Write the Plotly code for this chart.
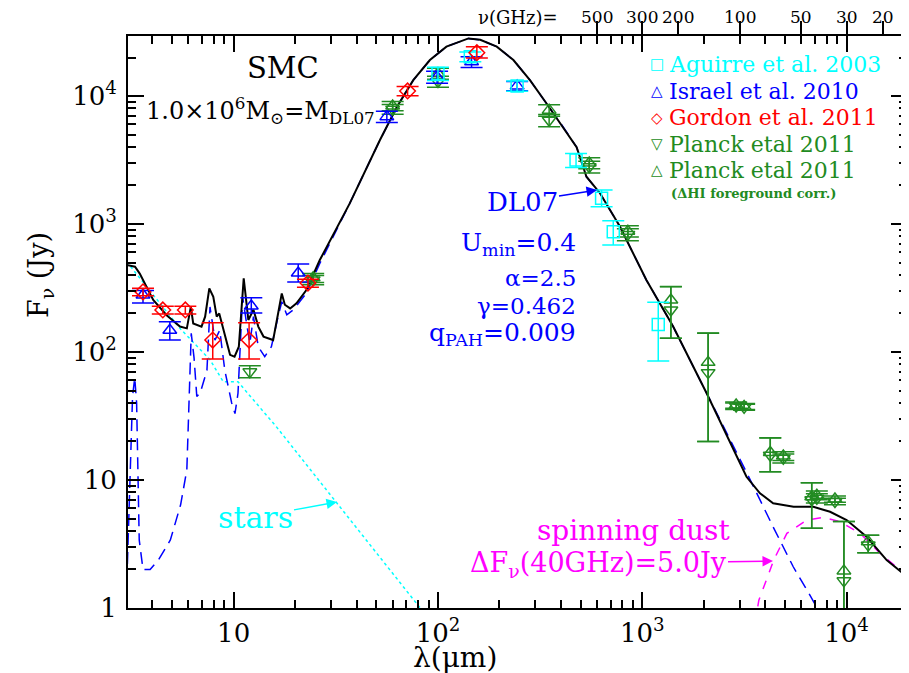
import plotly.graph_objects as go
import numpy as np

# ---------------- data ----------------
total_wl = [3.0, 3.29, 3.47, 4.04, 4.7, 5.46, 5.9, 6.17, 6.34, 6.96, 7.25, 7.6, 7.95, 8.26, 8.5, 8.9, 9.6, 10.1, 10.6,
            11.2, 11.5, 11.8, 12.5, 13.2, 14.0, 15.6, 16.5, 17.2, 17.8, 18.9, 20.3, 22.7, 26.4, 37, 52, 63, 75.7,
            91.3, 110, 141, 161, 194, 234, 282, 340, 410, 477, 533, 621, 777, 1047, 1416, 2065, 3236, 3767, 4370,
            5500, 6870, 8300, 10000, 12530, 15700, 19700]
total_F = [478, 464, 410, 255, 194, 158, 153, 225, 167, 158, 189, 314, 270, 189, 200, 148, 95, 92, 110,
           377, 270, 178, 214, 158, 132, 124, 200, 287, 234, 219, 240, 305, 523, 1450, 4530, 8250, 13300,
           19100, 24300, 28200, 27500, 24300, 19100, 13300, 8740, 5730, 3990, 2340, 1740, 955, 365, 158, 47.6, 10.6, 7.87, 6.58,
           6.17, 6.17, 5.65, 4.87, 3.6, 2.37, 1.76]

dust_wl = [3.0, 3.1, 3.2, 3.28, 3.35, 3.45, 3.6, 3.9, 4.3, 4.9, 5.5, 5.9, 6.05, 6.2, 6.4, 6.6, 6.85, 7.4, 7.66,
           8.1, 8.55, 9.05, 9.78, 10.15, 10.5, 11.06, 11.57, 12.0, 12.5, 13.2, 14.2, 15.3, 16.5, 17.2, 18.2, 19.6,
           22.7, 26.4, 37, 52, 63, 75.7, 91.3, 110, 141, 161, 194, 234, 282, 340, 410, 477, 533, 621, 777, 1047,
           1416, 2065, 3236, 4370, 5480, 6750, 7300]
dust_F = [1.57, 10, 45, 63, 40, 3.4, 2.0, 2.0, 2.4, 3.4, 6.4, 12, 40, 140, 90, 45, 47.6, 72, 225,
          124, 148, 72, 40, 33, 47.6, 270, 167, 117, 189, 110, 92, 110, 189, 247, 195, 214,
          288, 492, 1450, 4530, 8250, 13300, 19100, 24300, 28200, 27500, 24300, 19100, 13300, 8740, 5730, 3990, 2340,
          1740, 955, 365, 158, 47.6, 11.5, 4.3, 2.1, 1.19, 0.95]

stars_wl = [3.0, 5.46, 7.66, 8.9, 10.5, 16.2, 81.8, 90]
stars_F = [507, 153, 87, 58.5, 58.5, 26, 1.0, 0.82]

spin_wl = [3550, 3720, 4400, 5100, 6380, 7700, 9310, 11650, 14600, 19300, 20000]
spin_F = [0.75, 1.15, 2.37, 3.83, 4.87, 5.11, 4.72, 3.83, 2.67, 1.81, 1.75]

aguirre_wl = [100, 144, 244, 474, 632, 721, 1197]
aguirre_F = [15000, 20300, 12000, 3160, 1590, 870, 164]
aguirre_up = [1800, 1800, 1100, 400, 255, 192, 81]
aguirre_dn = [1800, 1800, 1100, 400, 225, 184, 79]

israel_wl = [3.6, 4.87, 12.2, 20.7, 56.2, 99, 146, 244]
israel_F = [279, 148, 229, 414, 6900, 14100, 18500, 12000]
israel_up = [23, 24, 36, 73, 700, 1500, 1800, 1000]
israel_dn = [38, 24, 27, 62, 700, 1500, 1800, 1000]

gordon_wl = [3.6, 4.5, 5.8, 7.9, 11.9, 23.1, 71, 155]
gordon_F = [295, 213, 213, 124, 124, 346, 10960, 21800]
gordon_up = [20, 15, 15, 45, 45, 25, 900, 2500]
gordon_dn = [20, 15, 15, 36, 36, 25, 900, 2000]

planck_wl = [12, 24.5, 60, 100, 350, 550, 850, 1380, 2100, 2880, 3150, 4230, 4900, 6750, 7150, 8770, 9700, 12760]
planck_F = [70, 366, 7900, 13000, 6460, 2800, 830, 213, 69, 37.8, 37.0, 15.6, 14.8, 7.0, 7.2, 6.8, 1.63, 3.1]
planck_up = [8, 30, 700, 1300, 700, 300, 90, 110, 71, 2.2, 2.0, 5.7, 1.2, 2.5, 0.6, 0.4, 3.1, 0.6]
planck_dn = [7, 30, 700, 1300, 700, 300, 90, 85, 49, 2.2, 2.0, 4.0, 1.2, 2.8, 0.6, 0.4, 1.6, 0.4]

planckhi_wl = [24.5, 60, 100, 350, 550, 850, 1380, 2100, 2880, 3150, 4230, 4900, 6750, 7150, 8770, 9700, 12760]
planckhi_F = [380, 8370, 15000, 7760, 3000, 880, 255, 83, 38.5, 37.6, 16.4, 15.4, 7.4, 7.6, 7.1, 1.95, 3.3]
planckhi_up = [30, 700, 1500, 800, 300, 90, 70, 58, 2.2, 2.0, 5.0, 1.2, 2.1, 0.6, 0.4, 2.8, 0.4]
planckhi_dn = [30, 700, 1500, 800, 300, 90, 127, 63, 2.2, 2.0, 4.8, 1.2, 3.2, 0.6, 0.4, 1.9, 0.6]

top_ghz = [500, 300, 200, 100, 50, 30, 20]
c_um_ghz = 2.998e5

major_x = [10, 100, 1000, 10000]
major_x_text = ["10", "10<sup>2</sup>", "10<sup>3</sup>", "10<sup>4</sup>"]
major_y = [1, 10, 100, 1000, 10000]
major_y_text = ["1", "10", "10<sup>2</sup>", "10<sup>3</sup>", "10<sup>4</sup>"]

# ---------------- figure ----------------
CYAN = "#00ffff"
BLUE = "#0000ff"
RED = "#ff0000"
GREEN = "#228b22"
MAG = "#ff00ff"
FONT = "DejaVu Serif"

OFF = 8                      # page body margin of the html page
W, H = 909 - OFF, 673 - OFF
X0, X1 = 128, 907            # plot frame in screen pixels
Y0, Y1 = 36, 608
L, R, T, B = X0 - OFF, 909 - X1, Y0 - OFF, 673 - Y1


def P(px, py):
    return (px - X0) / (X1 - X0), (Y1 - py) / (Y1 - Y0)


fig = go.Figure()

fig.add_trace(go.Scatter(x=stars_wl, y=stars_F, mode="lines",
                         line=dict(color=CYAN, width=1.5, dash="dot")))
fig.add_trace(go.Scatter(x=spin_wl, y=spin_F, mode="lines",
                         line=dict(color=MAG, width=1.5, dash="dash")))
fig.add_trace(go.Scatter(x=dust_wl, y=dust_F, mode="lines",
                         line=dict(color=BLUE, width=1.5, dash="12px,7px")))
fig.add_trace(go.Scatter(x=total_wl, y=total_F, mode="lines",
                         line=dict(color="black", width=2)))


def pts(wl, F, up, dn, color, symbol):
    fig.add_trace(go.Scatter(
        x=wl, y=F, mode="markers",
        marker=dict(symbol=symbol, size=12, color=color, line=dict(color=color, width=1.5)),
        error_y=dict(type="data", symmetric=False, array=up, arrayminus=dn,
                     color=color, thickness=1.5, width=11)))


pts(planck_wl, planck_F, planck_up, planck_dn, GREEN, "triangle-down-open")
pts(planckhi_wl, planckhi_F, planckhi_up, planckhi_dn, GREEN, "triangle-up-open")
pts(israel_wl, israel_F, israel_up, israel_dn, BLUE, "triangle-up-open")
pts(aguirre_wl, aguirre_F, aguirre_up, aguirre_dn, CYAN, "square-open")
pts(gordon_wl, gordon_F, gordon_up, gordon_dn, RED, "diamond-open")

# invisible helper traces so that the extra tick axes are drawn
for xa, ya in [("x2", "y"), ("x3", "y"), ("x4", "y"), ("x5", "y"), ("x", "y2"), ("x", "y3"), ("x", "y4")]:
    fig.add_trace(go.Scatter(x=[100], y=[100], xaxis=xa, yaxis=ya, mode="markers",
                             marker=dict(opacity=0), showlegend=False, hoverinfo="skip"))

xr = [np.log10(3.04), np.log10(19750)]
yr = [0, 4.469]


def minor_vals(lo, hi):
    v = []
    for k in range(lo, hi + 1):
        for m in range(2, 10):
            v.append(m * 10 ** k)
    return v


axis_font = dict(family=FONT, size=26, color="black")
tick_common = dict(showgrid=False, zeroline=False, automargin=False, tickwidth=1.5, tickcolor="black",
                   tickmode="array")


def xax(**kw):
    d = dict(type="log", range=xr, **tick_common)
    d.update(kw)
    return d


def yax(**kw):
    d = dict(type="log", range=yr, **tick_common)
    d.update(kw)
    return d


ghz_pos = [c_um_ghz / g for g in top_ghz]

fig.update_layout(
    width=W, height=H, margin=dict(l=L, r=R, t=T, b=B, autoexpand=False),
    paper_bgcolor="white", plot_bgcolor="white", showlegend=False,
    font=dict(family=FONT, color="black"),
    xaxis=xax(showline=True, linewidth=2, linecolor="black", mirror=True,
              ticks="inside", ticklen=16, tickvals=major_x, ticktext=major_x_text,
              tickfont=axis_font, ticklabelstandoff=1),
    xaxis3=xax(overlaying="x", side="bottom", anchor="y", ticks="inside", ticklen=8,
               tickvals=minor_vals(0, 4), showticklabels=False),
    xaxis4=xax(overlaying="x", side="top", anchor="y", ticks="inside", ticklen=16,
               tickvals=major_x, showticklabels=False),
    xaxis5=xax(overlaying="x", side="top", anchor="y", ticks="inside", ticklen=8,
               tickvals=minor_vals(0, 4), showticklabels=False),
    xaxis2=xax(overlaying="x", side="top", anchor="y", ticks="outside", ticklen=14,
               tickvals=ghz_pos, showticklabels=False),
    yaxis=yax(showline=True, linewidth=2, linecolor="black", mirror=True,
              ticks="inside", ticklen=16, tickvals=major_y, ticktext=major_y_text,
              tickfont=axis_font, ticklabelstandoff=4),
    yaxis2=yax(overlaying="y", side="right", anchor="x", ticks="inside", ticklen=16,
               tickvals=major_y, showticklabels=False),
    yaxis3=yax(overlaying="y", side="right", anchor="x", ticks="inside", ticklen=8,
               tickvals=minor_vals(0, 4), showticklabels=False),
    yaxis4=yax(overlaying="y", side="left", anchor="x", ticks="inside", ticklen=8,
               tickvals=minor_vals(0, 4), showticklabels=False),
)

ann = []


def text(px, py, s, size, color="black", xanchor="center", angle=0):
    x, y = P(px, py)
    ann.append(dict(x=x, y=y, xref="paper", yref="paper", text=s, showarrow=False,
                    xanchor=xanchor, yanchor="middle", textangle=angle,
                    font=dict(family=FONT, size=size, color=color)))


def arrow(tx, ty, px, py, s, size, color):
    x, y = P(tx, ty)
    ann.append(dict(x=x, y=y, xref="paper", yref="paper", text=s, showarrow=True,
                    ax=px - tx, ay=py - ty, axref="pixel", ayref="pixel",
                    arrowhead=2, arrowsize=1.4, arrowwidth=1.5, arrowcolor=color,
                    font=dict(family=FONT, size=size, color=color)))


# GHz labels of the top axis
for g, lam in zip(top_ghz, ghz_pos):
    ann.append(dict(x=np.log10(lam), y=P(0, 17)[1], xref="x", yref="paper", text=str(g),
                    showarrow=False, xanchor="center", yanchor="middle",
                    font=dict(family=FONT, size=17, color="black")))

text(455, 657, "λ(μm)", 28)
text(40, 275, "F<sub>ν</sub> (Jy)", 27, angle=-90)
text(283, 68, "SMC", 29)
text(260, 110, "1.0×10<sup>6</sup>M<sub>⊙</sub>=M<sub>DL07</sub>", 24)
text(518, 17, "ν(GHz)=", 18)

leg = [("□", "Aguirre et al. 2003", CYAN, 64), ("△", "Israel et al. 2010", BLUE, 91),
       ("◇", "Gordon et al. 2011", RED, 118), ("▽", "Planck etal 2011", GREEN, 144),
       ("△", "Planck etal 2011", GREEN, 170)]
for sym, lab, col, yy in leg:
    text(657, yy, sym, 15, col)
    text(667, yy, lab, 22, col, xanchor="left")
text(669, 193, "<b>(ΔHI foreground corr.)</b>", 13, GREEN, xanchor="left")

arrow(597, 190, 522, 202, "DL07", 26, BLUE)
text(578, 244, "U<sub>min</sub>=0.4", 25, BLUE, xanchor="right")
text(578, 278, "α=2.5", 23, BLUE, xanchor="right")
text(578, 306, "γ=0.462", 23, BLUE, xanchor="right")
text(578, 334, "q<sub>PAH</sub>=0.009", 25, BLUE, xanchor="right")

arrow(337, 502, 255, 517, "stars", 30, CYAN)
text(732, 530, "spinning dust", 28, MAG, xanchor="right")
arrow(773, 561, 598, 564, "ΔF<sub>ν</sub>(40GHz)=5.0Jy", 27, MAG)

fig.update_layout(annotations=ann)

fig.write_html("out.html")
